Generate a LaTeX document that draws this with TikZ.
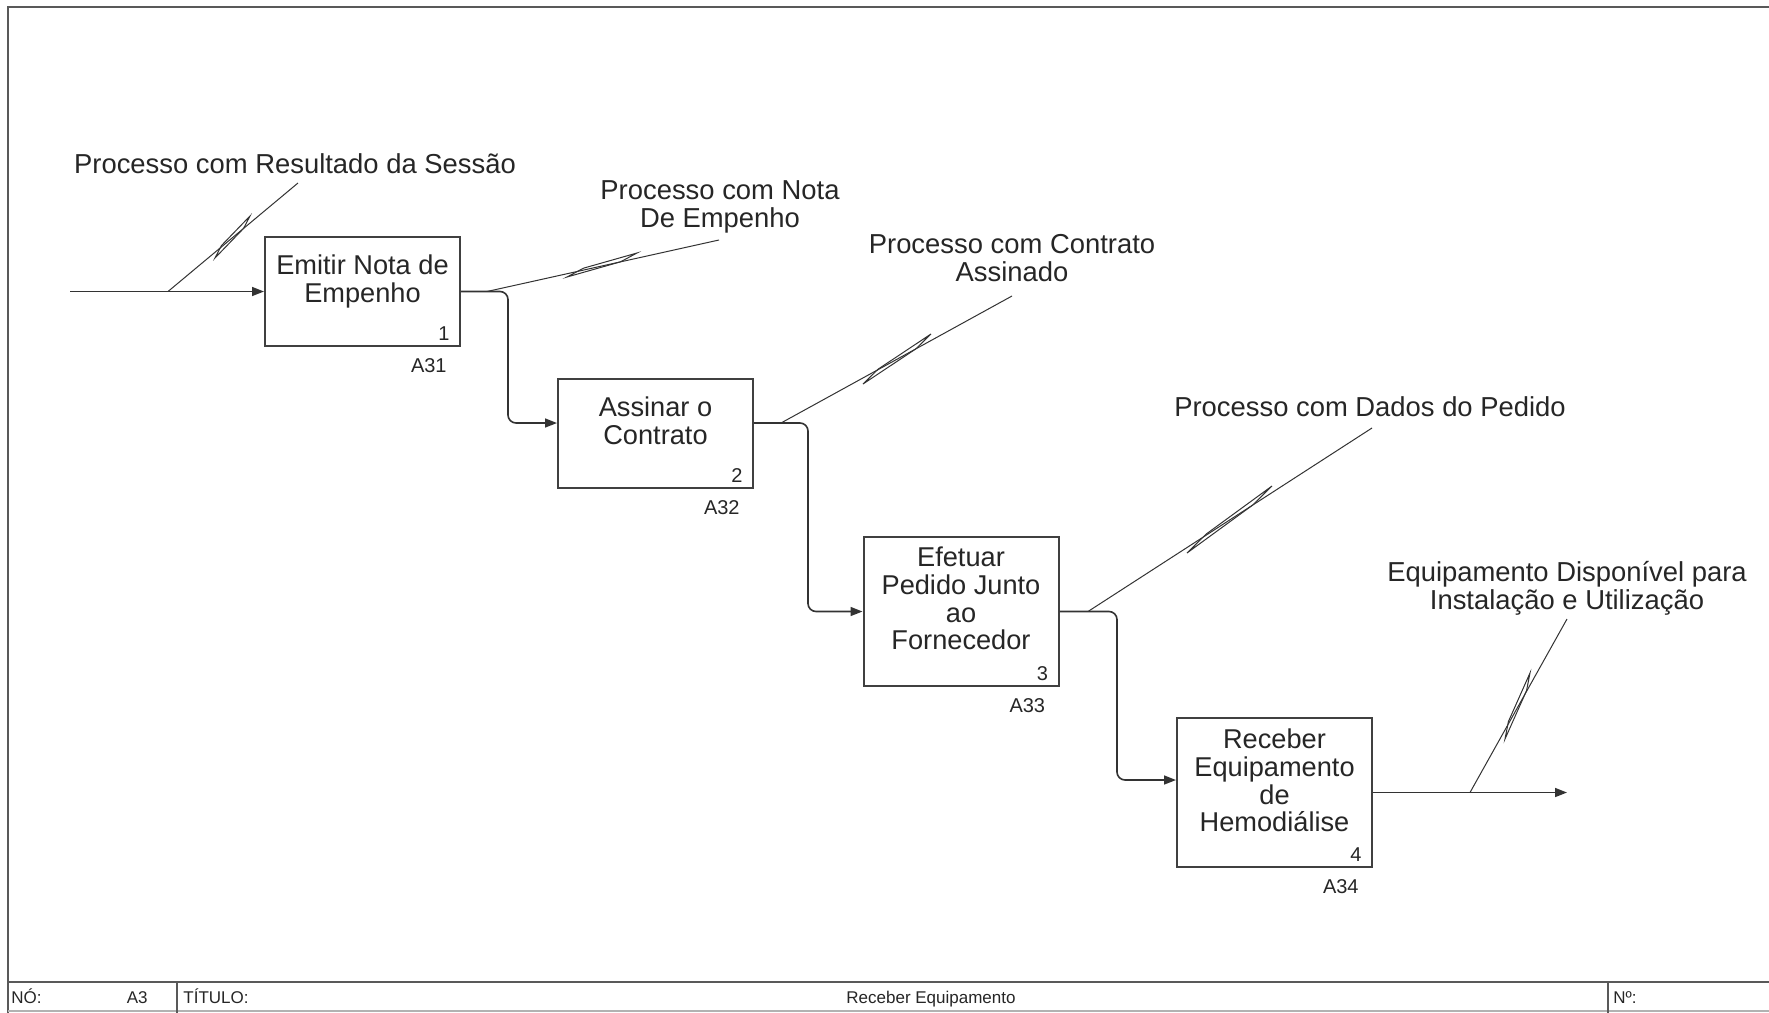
\documentclass[tikz,border=0pt]{standalone}
\usepackage{fontspec}
\setmainfont{Liberation Sans}
\usetikzlibrary{arrows.meta,calc}
\newcommand\idefsquig[2]{\draw[squig] (#1) -- ($(#1)!0.25!(#2)!1.5pt!90:(#2)$) -- (#2) -- ($(#2)!0.25!(#1)!1.5pt!90:(#1)$) -- cycle;}
\begin{document}
\begin{tikzpicture}[x=0.5pt,y=-0.5pt,
  box/.style={draw=black!75,line width=1pt,minimum width=97.5pt,inner sep=0pt},
  boxtext/.style={align=center,font=\fontsize{13.6}{13.8}\selectfont,text=black!85,inner sep=0pt},
  num/.style={font=\fontsize{10}{11}\selectfont,anchor=base east,inner sep=0pt,text=black!85},
  conn/.style={draw=black!80,line width=0.8pt,rounded corners=4pt},
  arr/.style={-{Triangle[length=6pt,width=4.5pt]}},
  lab/.style={draw=black!80,line width=0.5pt},
  squig/.style={draw=black!80,line width=0.5pt,line join=miter},
  ltext/.style={font=\fontsize{13.7}{14}\selectfont,align=center,inner sep=0pt,text=black!85},
  tb/.style={font=\fontsize{8.5}{9}\selectfont,anchor=base west,inner sep=0pt,text=black!85},
  frame/.style={draw=black!65,line width=1pt}
]
\fill[white] (0,0) rectangle (1769,1013);
\useasboundingbox (0,0) rectangle (1769,1013);

% frame and title bar
\draw[frame] (1769,7) -- (8,7) -- (8,1013);
\draw[frame] (8,982) -- (1769,982);
\draw[draw=black!30,line width=0.6pt] (8,1011) -- (1769,1011);
\draw[frame] (177,982) -- (177,1013);
\draw[frame] (1608,982) -- (1608,1013);
\node[tb] (tbn) at (11,1003) {NÓ:};
\node[tb,anchor=base east] (tba) at (148,1003) {A3};
\node[tb] (tbt) at (183,1003) {TÍTULO:};
\node[tb,anchor=base] (tbr) at (931,1003) {Receber Equipamento};
\node[tb] (tbno) at (1613,1003) {Nº:};

% boxes
\node[box,minimum height=54.5pt] (b1) at (362.5,291.5) {};
\node[box,minimum height=54.5pt] (b2) at (655.5,433.5) {};
\node[box,minimum height=74.5pt] (b3) at (961,611.5) {};
\node[box,minimum height=74.5pt] (b4) at (1274.5,792.5) {};

\node[boxtext] (t1) at ($(b1.center)+(0,-10)$) {Emitir Nota de\\Empenho};
\node[boxtext] (t2) at ($(b2.center)+(0,-13)$) {Assinar o\\Contrato};
\node[boxtext] (t3) at ($(b3.center)+(0,-13)$) {Efetuar\\Pedido Junto\\ao\\Fornecedor};
\node[boxtext] (t4) at ($(b4.center)+(0,-12)$) {Receber\\Equipamento\\de\\Hemodiálise};

\node[num] (n1) at ($(b1.south east)+(-11,-7)$) {1};
\node[num] (n2) at ($(b2.south east)+(-11,-7)$) {2};
\node[num] (n3) at ($(b3.south east)+(-11,-7)$) {3};
\node[num] (n4) at ($(b4.south east)+(-11,-7)$) {4};
\node[num] (a1) at ($(b1.south east)+(-14,25)$) {A31};
\node[num] (a2) at ($(b2.south east)+(-14,25)$) {A32};
\node[num] (a3) at ($(b3.south east)+(-14,25)$) {A33};
\node[num] (a4) at ($(b4.south east)+(-14,25)$) {A34};

% connectors
\coordinate (in0) at (70,291.5);
\coordinate (b2in) at ($(b2.west)+(0,-10.5)$);
\coordinate (b2out) at ($(b2.east)+(0,-10.5)$);
\coordinate (b4in) at ($(b4.west)+(0,-12.5)$);
\coordinate (out) at (1567,792.5);
\draw[conn,arr] (in0) -- (b1.west);
\draw[conn,arr] (b1.east) -| (508,423) -- (b2in);
\draw[conn,arr] (b2out) -| (808,611.5) -- (b3.west);
\draw[conn,arr] (b3.east) -| (1117,780) -- (b4in);
\draw[conn,arr] (b4.east) -- (out);

% label leaders
\coordinate (j1) at (168,291.5);  \coordinate (e1) at (298,183);
\coordinate (j2) at (487,291.5);  \coordinate (e2) at (719,240);
\coordinate (j3) at (781,423);    \coordinate (e3) at (1012,296);
\coordinate (j4) at (1088,611.5); \coordinate (e4) at (1372,428);
\coordinate (j5) at (1470,792.5); \coordinate (e5) at (1567,619);
\draw[lab] (j1) -- (e1);
\draw[lab] (j2) -- (e2);
\draw[lab] (j3) -- (e3);
\draw[lab] (j4) -- (e4);
\draw[lab] (j5) -- (e5);

\coordinate (s1t) at (250,216);  \coordinate (s1b) at (215,258);
\coordinate (s2t) at (637,253);  \coordinate (s2b) at (567,277);
\coordinate (s3t) at (931,334);  \coordinate (s3b) at (863,384);
\coordinate (s4t) at (1272,486); \coordinate (s4b) at (1187,553);
\coordinate (s5t) at (1530,673); \coordinate (s5b) at (1505,739);
\idefsquig{s1t}{s1b}
\idefsquig{s2t}{s2b}
\idefsquig{s3t}{s3b}
\idefsquig{s4t}{s4b}
\idefsquig{s5t}{s5b}

% labels
\node[ltext,anchor=base] (l1) at (295,173) {Processo com Resultado da Sessão};
\node[ltext] (l2) at (720,207) {Processo com Nota\\De Empenho};
\node[ltext] (l3) at (1012,258) {Processo com Contrato\\Assinado};
\node[ltext,anchor=base] (l4) at (1370,416) {Processo com Dados do Pedido};
\node[ltext] (l5) at (1567,588) {Equipamento Disponível para\\Instalação e Utilização};
\end{tikzpicture}
\end{document}
